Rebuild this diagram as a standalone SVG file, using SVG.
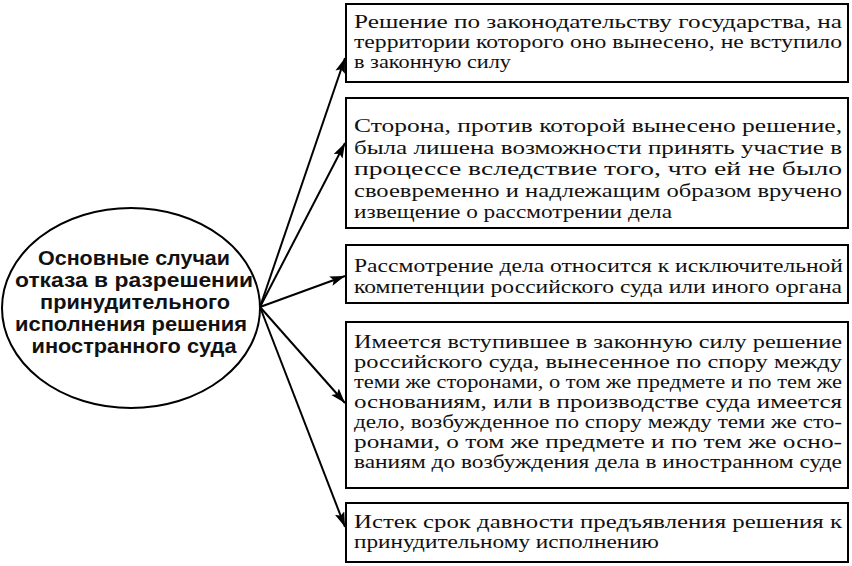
<svg xmlns="http://www.w3.org/2000/svg" width="852" height="566" viewBox="0 0 852 566">
<style>
.box{fill:#fff;stroke:#000;stroke-width:2}
.t{font-family:"Liberation Serif","Times New Roman",serif;font-size:19px;fill:#111}
.h{font-family:"Liberation Sans",Arial,sans-serif;font-size:21px;font-weight:bold;fill:#111;text-anchor:middle}
.c{stroke:#000;stroke-width:2;fill:none}
</style>
<defs>
<marker id="ah" markerUnits="userSpaceOnUse" markerWidth="16" markerHeight="12" refX="15" refY="5" orient="auto">
<path d="M0,0 L15,5 L0,10 L3,5 Z" fill="#000"/>
</marker>
</defs>
<rect width="852" height="566" fill="#fff"/>
<g id="connectors">
<line class="c" x1="260" y1="307" x2="345" y2="58" marker-end="url(#ah)"/>
<line class="c" x1="260" y1="307" x2="345" y2="143" marker-end="url(#ah)"/>
<line class="c" x1="260" y1="307" x2="345" y2="276" marker-end="url(#ah)"/>
<line class="c" x1="260" y1="307" x2="345" y2="403" marker-end="url(#ah)"/>
<line class="c" x1="260" y1="307" x2="345" y2="527" marker-end="url(#ah)"/>
</g>
<g id="center">
<ellipse cx="131" cy="308" rx="129" ry="100" fill="#fff" stroke="#000" stroke-width="2"/>
<text class="h" x="134" y="265" textLength="192" lengthAdjust="spacingAndGlyphs">Основные случаи</text>
<text class="h" x="134" y="287" textLength="238" lengthAdjust="spacingAndGlyphs">отказа в разрешении</text>
<text class="h" x="135" y="309" textLength="190" lengthAdjust="spacingAndGlyphs">принудительного</text>
<text class="h" x="131" y="331" textLength="232" lengthAdjust="spacingAndGlyphs">исполнения решения</text>
<text class="h" x="134" y="353" textLength="205" lengthAdjust="spacingAndGlyphs">иностранного суда</text>
</g>
<g id="box1">
<rect class="box" x="346" y="4" width="502" height="78"/>
<text class="t" x="354" y="28" textLength="488" lengthAdjust="spacingAndGlyphs">Решение по законодательству государства, на</text>
<text class="t" x="354" y="48" textLength="488" lengthAdjust="spacingAndGlyphs">территории которого оно вынесено, не вступило</text>
<text class="t" x="354" y="68" textLength="157" lengthAdjust="spacingAndGlyphs">в законную силу</text>
</g>
<g id="box2">
<rect class="box" x="346" y="98" width="502" height="130"/>
<text class="t" x="354" y="132" textLength="488" lengthAdjust="spacingAndGlyphs">Сторона, против которой вынесено решение,</text>
<text class="t" x="354" y="153.5" textLength="488" lengthAdjust="spacingAndGlyphs">была лишена возможности принять участие в</text>
<text class="t" x="354" y="175" textLength="488" lengthAdjust="spacingAndGlyphs">процессе вследствие того, что ей не было</text>
<text class="t" x="354" y="196.5" textLength="488" lengthAdjust="spacingAndGlyphs">своевременно и надлежащим образом вручено</text>
<text class="t" x="354" y="218" textLength="318" lengthAdjust="spacingAndGlyphs">извещение о рассмотрении дела</text>
</g>
<g id="box3">
<rect class="box" x="346" y="245" width="502" height="58"/>
<text class="t" x="354" y="272" textLength="489" lengthAdjust="spacingAndGlyphs">Рассмотрение дела относится к исключительной</text>
<text class="t" x="354" y="293" textLength="488" lengthAdjust="spacingAndGlyphs">компетенции российского суда или иного органа</text>
</g>
<g id="box4">
<rect class="box" x="346" y="322" width="502" height="166"/>
<text class="t" x="354" y="348" textLength="488" lengthAdjust="spacingAndGlyphs">Имеется вступившее в законную силу решение</text>
<text class="t" x="354" y="368" textLength="488" lengthAdjust="spacingAndGlyphs">российского суда, вынесенное по спору между</text>
<text class="t" x="354" y="388" textLength="488" lengthAdjust="spacingAndGlyphs">теми же сторонами, о том же предмете и по тем же</text>
<text class="t" x="354" y="408" textLength="488" lengthAdjust="spacingAndGlyphs">основаниям, или в производстве суда имеется</text>
<text class="t" x="354" y="428" textLength="488" lengthAdjust="spacingAndGlyphs">дело, возбужденное по спору между теми же сто-</text>
<text class="t" x="354" y="448" textLength="488" lengthAdjust="spacingAndGlyphs">ронами, о том же предмете и по тем же осно-</text>
<text class="t" x="354" y="468" textLength="488" lengthAdjust="spacingAndGlyphs">ваниям до возбуждения дела в иностранном суде</text>
</g>
<g id="box5">
<rect class="box" x="346" y="503" width="502" height="59"/>
<text class="t" x="354" y="528" textLength="488" lengthAdjust="spacingAndGlyphs">Истек срок давности предъявления решения к</text>
<text class="t" x="354" y="548" textLength="305" lengthAdjust="spacingAndGlyphs">принудительному исполнению</text>
</g>
</svg>
